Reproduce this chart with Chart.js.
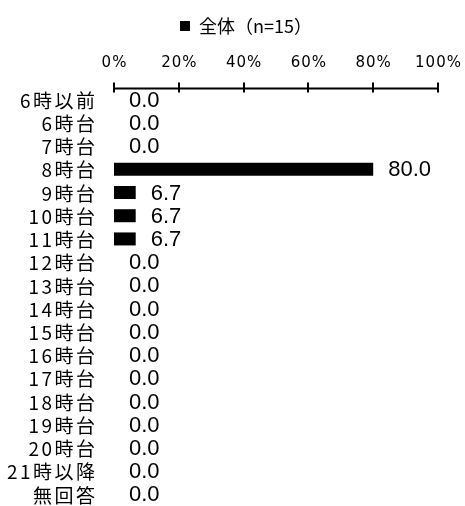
<!DOCTYPE html>
<html>
<head>
<meta charset="utf-8">
<script src="https://cdn.jsdelivr.net/npm/chart.js@4.4.1/dist/chart.umd.min.js"></script>
<style>
  html, body { margin: 0; padding: 0; background: #fff; }
  #wrap { width: 465px; height: 506px; }
</style>
</head>
<body>
<div id="wrap"><canvas id="myChart"></canvas></div>
<script>
const categories = ['6時以前', '6時台', '7時台', '8時台', '9時台', '10時台', '11時台', '12時台', '13時台',
    '14時台', '15時台', '16時台', '17時台', '18時台', '19時台', '20時台', '21時以降', '無回答'];
const values = [0.0, 0.0, 0.0, 80.0, 6.7, 6.7, 6.7, 0.0, 0.0, 0.0, 0.0, 0.0, 0.0, 0.0, 0.0, 0.0, 0.0, 0.0];
const tickValues = [0, 20, 40, 60, 80, 100];
const tickLabels = ['0%', '20%', '40%', '60%', '80%', '100%'];
const seriesName = '全体（n=15）';

const ctx = document.getElementById('myChart');

// axis line with crossing ticks, spaced-out axis labels and value labels
const axisAndLabels = {
    id: 'axisAndLabels',
    afterDraw(chart) {
        const c = chart.ctx;
        const xs = chart.scales.x;
        const ys = chart.scales.y;
        const top = Math.round(chart.chartArea.top) + 0.5;
        const x0 = xs.getPixelForValue(0);
        const x1 = xs.getPixelForValue(100);

        c.save();
        c.strokeStyle = '#000';
        c.lineWidth = 2;
        c.beginPath();
        c.moveTo(x0 - 1, top);
        c.lineTo(x1 + 1, top);
        for (const v of tickValues) {
            const px = Math.round(xs.getPixelForValue(v));
            c.moveTo(px, top - 6);
            c.lineTo(px, top + 4);
        }
        c.stroke();

        c.fillStyle = '#000';
        c.textBaseline = 'middle';

        // percent labels above the axis
        c.font = '15px "DejaVu Sans"';
        c.letterSpacing = '1px';
        c.textAlign = 'center';
        tickValues.forEach((v, i) => {
            c.fillText(tickLabels[i], xs.getPixelForValue(v) + 0.5, top - 25);
        });

        // category names
        c.font = '19px "Noto Sans CJK JP"';
        c.letterSpacing = '2.5px';
        c.textAlign = 'right';
        categories.forEach((name, i) => {
            c.fillText(name, chart.chartArea.left - 19 + 2.5, ys.getPixelForValue(i) + 1);
        });

        // values after each bar
        c.letterSpacing = '0px';
        c.font = '22px "Liberation Sans"';
        c.textAlign = 'left';
        const meta = chart.getDatasetMeta(0);
        meta.data.forEach((bar, i) => {
            c.fillText(values[i].toFixed(1), bar.x + 15, bar.y + 1);
        });
        c.restore();
    }
};

const chart = new Chart(ctx, {
    type: 'bar',
    data: {
        labels: categories,
        datasets: [{
            label: seriesName,
            data: values,
            backgroundColor: '#000',
            borderWidth: 0,
            categoryPercentage: 1,
            barPercentage: 0.56
        }]
    },
    options: {
        indexAxis: 'y',
        responsive: true,
        maintainAspectRatio: false,
        animation: false,
        layout: {
            padding: { left: 54, right: 27, top: 7, bottom: 0 }
        },
        plugins: {
            legend: {
                position: 'top',
                labels: {
                    color: '#000',
                    boxWidth: 10,
                    boxHeight: 10,
                    padding: 10,
                    font: { family: '"Noto Sans CJK JP"', size: 18 }
                }
            },
            tooltip: { enabled: false }
        },
        scales: {
            x: {
                position: 'top',
                min: 0,
                max: 100,
                ticks: { display: false, stepSize: 20 },
                grid: { display: false },
                border: { display: false },
                afterFit: (scale) => { scale.height = 43; }
            },
            y: {
                ticks: { display: false },
                grid: { display: false },
                border: { display: false },
                afterFit: (scale) => { scale.width = 60; }
            }
        }
    },
    plugins: [axisAndLabels]
});
</script>
</body>
</html>
